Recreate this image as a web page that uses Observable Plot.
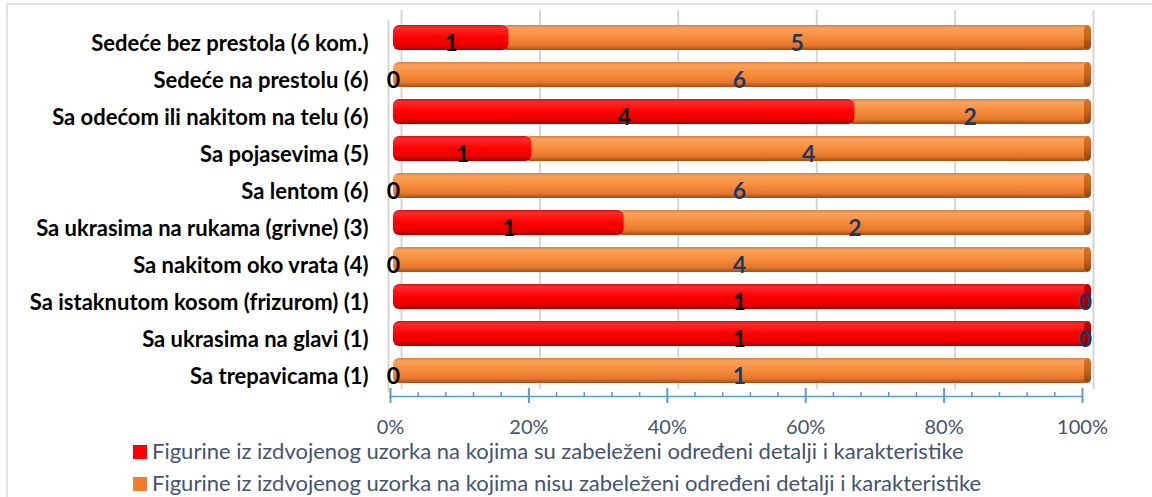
<!DOCTYPE html>
<html>
<head>
<meta charset="utf-8">
<script src="https://cdn.jsdelivr.net/npm/d3@7"></script>
<script src="https://cdn.jsdelivr.net/npm/@observablehq/plot@0.6"></script>
<style>
  html, body { margin: 0; padding: 0; background: #fff; overflow: hidden; width: 1152px; height: 497px; }
  #frame { position: absolute; left: 6px; top: 3px; width: 2000px; height: 2000px; border-left: 2px solid #dfe4ea; border-top: 2px solid #dfe4ea; pointer-events: none; }
  #chart { position: absolute; left: 0; top: 0; }
  #legend { position: absolute; left: 133px; top: 439px; font-family: Lato, sans-serif; font-size: 22px; color: #44546a; line-height: 24px; white-space: nowrap; }
  #legend > div { height: 24px; margin-bottom: 8px; }
  #legend .sw { display: inline-block; width: 14px; height: 14px; margin-right: 5px; vertical-align: 0px; }
</style>
</head>
<body>
<div id="frame"></div>
<div id="chart"></div>
<div id="legend"></div>
<script>
const categories = [
  "Sedeće bez prestola (6 kom.)",
  "Sedeće na prestolu (6)",
  "Sa odećom ili nakitom na telu (6)",
  "Sa pojasevima (5)",
  "Sa lentom (6)",
  "Sa ukrasima na rukama (grivne) (3)",
  "Sa nakitom oko vrata (4)",
  "Sa istaknutom kosom (frizurom) (1)",
  "Sa ukrasima na glavi (1)",
  "Sa trepavicama (1)"
];
const shown    = [1, 0, 4, 1, 0, 1, 0, 1, 1, 0];
const notShown = [5, 6, 2, 4, 6, 2, 4, 0, 0, 1];
const seriesNames = [
  "Figurine iz izdvojenog uzorka na kojima su zabeleženi određeni detalji i karakteristike",
  "Figurine iz izdvojenog uzorka na kojima nisu zabeleženi određeni detalji i karakteristike"
];
const seriesColors = ["#ff0000", "#ed7d31"];
const majorTicks = [0, 20, 40, 60, 80, 100];
const minorTicks = [4, 8, 12, 16, 24, 28, 32, 36, 44, 48, 52, 56, 64, 68, 72, 76, 84, 88, 92, 96];

const rows = categories.map((cat, i) => {
  const a = shown[i], b = notShown[i], t = a + b;
  return { cat, a, b, pa: a / t * 100, pb: b / t * 100 };
});

const barBase = { y: "cat", dx: 3, rx: 6 };

const chart = Plot.plot({
  width: 1152,
  height: 440,
  marginLeft: 390,
  marginRight: 70,
  marginTop: 17,
  marginBottom: 44,
  style: { fontFamily: "Lato, sans-serif", background: "transparent" },
  x: { domain: [0, 100] },
  y: { domain: categories, paddingInner: 0.33, paddingOuter: 0.215, align: 0.37, label: null },
  marks: [
    Plot.ruleX(majorTicks, { x: d => d, stroke: "#d2d2d2", strokeWidth: 1.8, dx: 11, dy: -7 }),
    Plot.ruleX([0], { x: d => d, stroke: "#d2d2d2", strokeWidth: 1.8, dx: -2, insetTop: 3, insetBottom: 4 }),
    // orange segments
    Plot.barX(rows.filter(r => r.b > 0 && r.a > 0), { ...barBase, x1: r => r.pa, x2: r => r.pa + r.pb, insetLeft: -7, insetRight: -5, fill: "url(#gOrange)" }),
    Plot.barX(rows.filter(r => r.b > 0 && r.a === 0), { ...barBase, x1: r => r.pa, x2: r => r.pa + r.pb, insetRight: -5, fill: "url(#gOrange)" }),
    // red segments
    Plot.barX(rows.filter(r => r.a > 0 && r.b > 0), { ...barBase, x1: 0, x2: r => r.pa, fill: "url(#gRed)" }),
    Plot.barX(rows.filter(r => r.a > 0 && r.b === 0), { ...barBase, x1: 0, x2: r => r.pa, insetRight: -5, fill: "url(#gRed)" }),
    // end caps
    Plot.barX(rows.filter(r => r.b > 0), { y: "cat", dx: 3, rx: 5, x1: r => r.pa + r.pb, x2: r => r.pa + r.pb, insetLeft: -1, insetRight: -6, fill: "url(#gOrangeCap)" }),
    Plot.barX(rows.filter(r => r.b === 0), { y: "cat", dx: 3, rx: 5, x1: r => r.pa, x2: r => r.pa, insetLeft: -1, insetRight: -6, fill: "url(#gRedCap)" }),
    // value labels
    Plot.text(rows, { y: "cat", x: r => r.pa / 2, text: r => String(r.a), fill: "#000", fontWeight: "bold", fontSize: 23, dx: 3, dy: 6 }),
    Plot.text(rows, { y: "cat", x: r => r.pa + r.pb / 2, text: r => String(r.b), fill: "#1f3864", fontWeight: "bold", fontSize: 23, dx: 3, dy: 6 }),
    // axes
    Plot.axisY({ tickSize: 0, tickPadding: 22, fontSize: 22, fontWeight: "bold", fill: "#000", dy: 6, label: null }),
    Plot.frame({ anchor: "bottom", stroke: "#5b9bd5", strokeWidth: 1.5 }),
    Plot.axisX({ ticks: minorTicks, tickSize: 4, dy: -4, text: null, stroke: "#5b9bd5", strokeWidth: 1.5, label: null }),
    Plot.axisX({ ticks: majorTicks, tickSize: 15, dy: -8, tickPadding: 16, tickFormat: d => d + "%", fontSize: 20, fill: "#44546a", stroke: "#5b9bd5", strokeWidth: 2, label: null })
  ]
});

const defs = d3.select(chart).insert("defs", ":first-child");
function grad(id, stops) {
  const g = defs.append("linearGradient").attr("id", id).attr("x1", 0).attr("y1", 0).attr("x2", 0).attr("y2", 1);
  stops.forEach(([o, c]) => g.append("stop").attr("offset", o).attr("stop-color", c));
}
grad("gRed", [["0%", "#d81010"], ["12%", "#ff2a2a"], ["50%", "#ff0000"], ["82%", "#e80000"], ["100%", "#9c0000"]]);
grad("gOrange", [["0%", "#d9803e"], ["12%", "#f9a25c"], ["50%", "#f68c3a"], ["82%", "#e4772b"], ["100%", "#9a5018"]]);
grad("gRedCap", [["0%", "#c00000"], ["50%", "#b00000"], ["100%", "#7a0000"]]);
grad("gOrangeCap", [["0%", "#d8741f"], ["50%", "#c9621a"], ["100%", "#8a4410"]]);

document.getElementById("chart").appendChild(chart);

const legend = d3.select("#legend");
seriesNames.forEach((name, i) => {
  const row = legend.append("div");
  row.append("span").attr("class", "sw").style("background", seriesColors[i]);
  row.append("span").text(name);
});
</script>
</body>
</html>
